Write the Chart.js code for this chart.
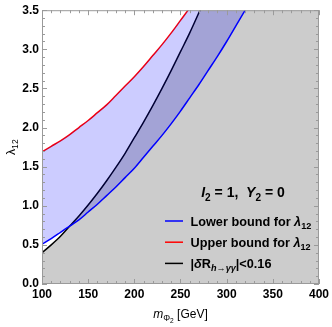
<!DOCTYPE html>
<html>
<head>
<meta charset="utf-8">
<script src="https://cdn.jsdelivr.net/npm/chart.js@4"></script>
<style>
  html, body { margin: 0; padding: 0; background: #fff; }
  canvas { display: block; }
</style>
</head>
<body>
<canvas id="chart" width="332" height="327"></canvas>
<script>
// values (m in GeV, lambda_12)
const massLower = [100, 110, 120, 130, 140, 150, 160, 170, 180, 190, 200, 210, 220, 230, 240, 250, 260, 270, 280, 290, 300, 310, 320, 330];
const lowerBound = [0.51, 0.58, 0.66, 0.74, 0.82, 0.92, 1.02, 1.13, 1.24, 1.36, 1.48, 1.62, 1.76, 1.90, 2.05, 2.21, 2.38, 2.55, 2.73, 2.91, 3.10, 3.30, 3.50, 3.71];

const massUpper = [100, 110, 120, 130, 140, 150, 160, 170, 180, 190, 200, 210, 220, 230, 240, 250, 260, 270, 280, 290, 300, 320, 340];
const upperBound = [1.69, 1.76, 1.83, 1.91, 2.00, 2.09, 2.19, 2.29, 2.41, 2.53, 2.65, 2.78, 2.92, 3.06, 3.21, 3.37, 3.53, 3.70, 3.88, 4.06, 4.25, 4.65, 5.07];

const massDeltaR = [100, 110, 120, 130, 140, 150, 160, 170, 180, 190, 200, 210, 220, 230, 240, 250, 260, 270, 280, 290, 300, 320, 340, 360, 380, 400];
const deltaRBound = [0.40, 0.50, 0.61, 0.74, 0.87, 1.01, 1.16, 1.32, 1.49, 1.67, 1.87, 2.07, 2.28, 2.50, 2.73, 2.97, 3.21, 3.47, 3.74, 4.02, 4.31, 4.91, 5.56, 6.24, 6.97, 7.73];

const xTicks = [100, 150, 200, 250, 300, 350, 400];
const yTicks = [0, 0.5, 1.0, 1.5, 2.0, 2.5, 3.0, 3.5];

const FONT = "'Liberation Sans', Arial, sans-serif";

// rich text pieces: [text, level (0 normal, 1 sub, 2 subsub), italic]
const legendLabels = [
  [["Lower bound for ", 0], ["λ", 0, true], ["12", 1]],
  [["Upper bound for ", 0], ["λ", 0, true], ["12", 1]],
  [["|", 0], ["δ", 0, true], ["R", 0], ["h", 1, true], ["→", 1], ["γγ", 1, true], ["|<0.16", 0]],
];
const noteText = [["I", 0, true], ["2", 1], [" = 1,  ", 0], ["Y", 0, true], ["2", 1], [" = 0", 0]];
const xTitle = [["m", 0, true], ["Φ", 1], ["2", 2], [" [GeV]", 0]];
const yTitle = [["λ", 0], ["12", 1]];

function pts(xs, ys) {
  return xs.map((x, i) => ({ x, y: ys[i] }));
}

function richWidth(ctx, parts, size, weight) {
  let w = 0;
  for (const [t, lvl, it] of parts) {
    const s = size * (lvl === 0 ? 1 : lvl === 1 ? 0.72 : 0.55);
    ctx.font = `${it ? "italic " : ""}${weight} ${s}px ${FONT}`;
    w += ctx.measureText(t).width;
  }
  return w;
}

function drawRich(ctx, parts, x, y, size, weight, align) {
  let cx = align === "center" ? x - richWidth(ctx, parts, size, weight) / 2 : x;
  ctx.textBaseline = "alphabetic";
  ctx.textAlign = "left";
  for (const [t, lvl, it] of parts) {
    const s = size * (lvl === 0 ? 1 : lvl === 1 ? 0.72 : 0.55);
    const dy = lvl === 0 ? 0 : lvl === 1 ? size * 0.28 : size * 0.45;
    ctx.font = `${it ? "italic " : ""}${weight} ${s}px ${FONT}`;
    ctx.fillText(t, cx, y + dy);
    cx += ctx.measureText(t).width;
  }
}

// frame with inward major/minor ticks, like the original frame
const framePlugin = {
  id: "frame",
  afterDatasetsDraw(chart) {
    const { ctx, chartArea: a, scales } = chart;
    const xs = scales.x, ys = scales.y;
    ctx.save();
    ctx.strokeStyle = "#9a9a9a";
    ctx.lineWidth = 1;
    ctx.strokeRect(a.left + 0.5, a.top + 0.5, a.right - a.left - 1, a.bottom - a.top - 1);
    ctx.beginPath();
    for (let v = 100; v <= 400; v += 10) {
      const px = Math.round(xs.getPixelForValue(v)) + 0.5;
      const len = v % 50 === 0 ? 5 : 3;
      ctx.moveTo(px, a.bottom); ctx.lineTo(px, a.bottom - len);
      ctx.moveTo(px, a.top); ctx.lineTo(px, a.top + len);
    }
    for (let k = 0; k <= 35; k++) {
      const py = Math.round(ys.getPixelForValue(k / 10)) + 0.5;
      const len = k % 5 === 0 ? 5 : 3;
      ctx.moveTo(a.left, py); ctx.lineTo(a.left + len, py);
      ctx.moveTo(a.right, py); ctx.lineTo(a.right - len, py);
    }
    ctx.stroke();
    ctx.restore();
  },
  afterDraw(chart) {
    const { ctx, chartArea: a } = chart;
    ctx.save();
    ctx.fillStyle = "#000";
    // axis titles
    drawRich(ctx, xTitle, (a.left + a.right) / 2, 318, 12, "normal", "center");
    ctx.translate(15, (a.top + a.bottom) / 2);
    ctx.rotate(-Math.PI / 2);
    drawRich(ctx, yTitle, 0, 0, 12, "normal", "center");
    ctx.restore();

    ctx.save();
    ctx.fillStyle = "#000";
    drawRich(ctx, noteText, 243, 197, 14, "bold", "center");
    chart.data.datasets.forEach((ds, i) => {
      const y = 221 + i * 21.2;
      ctx.strokeStyle = ds.borderColor;
      ctx.lineWidth = 1.5;
      ctx.beginPath();
      ctx.moveTo(165, y);
      ctx.lineTo(183, y);
      ctx.stroke();
      ctx.fillStyle = "#000";
      drawRich(ctx, legendLabels[i], 190.5, y + 4.5, 12.7, "bold", "left");
    });
    ctx.restore();
  },
};

new Chart(document.getElementById("chart"), {
  type: "line",
  data: {
    datasets: [
      {
        label: "Lower bound for λ12",
        data: pts(massLower, lowerBound),
        borderColor: "#0000ff",
        backgroundColor: "rgba(0,0,255,0.2)",
        borderWidth: 1.5,
        pointRadius: 0,
        fill: 1,
      },
      {
        label: "Upper bound for λ12",
        data: pts(massUpper, upperBound),
        borderColor: "#ff0000",
        borderWidth: 1.5,
        pointRadius: 0,
        fill: false,
      },
      {
        label: "|δR h→γγ|<0.16",
        data: pts(massDeltaR, deltaRBound),
        borderColor: "#000000",
        backgroundColor: "#cccccc",
        borderWidth: 1.5,
        pointRadius: 0,
        fill: "origin",
      },
    ],
  },
  options: {
    responsive: false,
    animation: false,
    devicePixelRatio: 1,
    layout: { padding: { top: 6, right: 12, left: 0, bottom: 0 } },
    elements: { line: { cubicInterpolationMode: "monotone" } },
    plugins: { legend: { display: false }, tooltip: { enabled: false } },
    scales: {
      x: {
        type: "linear",
        min: 100,
        max: 400,
        grid: { display: false, drawTicks: false },
        border: { display: false },
        afterBuildTicks: (s) => { s.ticks = xTicks.map((v) => ({ value: v })); },
        afterFit: (s) => { s.height = 43; },
        ticks: {
          color: "#000",
          padding: 3,
          maxRotation: 0,
          font: { family: FONT, size: 12, weight: "bold" },
        },
      },
      y: {
        min: 0,
        max: 3.5,
        grid: { display: false, drawTicks: false },
        border: { display: false },
        afterBuildTicks: (s) => { s.ticks = yTicks.map((v) => ({ value: v })); },
        afterFit: (s) => { s.width = 42; },
        ticks: {
          color: "#000",
          padding: 3,
          callback: (v) => v.toFixed(1),
          font: { family: FONT, size: 12, weight: "bold" },
        },
      },
    },
  },
  plugins: [framePlugin],
});
</script>
</body>
</html>
